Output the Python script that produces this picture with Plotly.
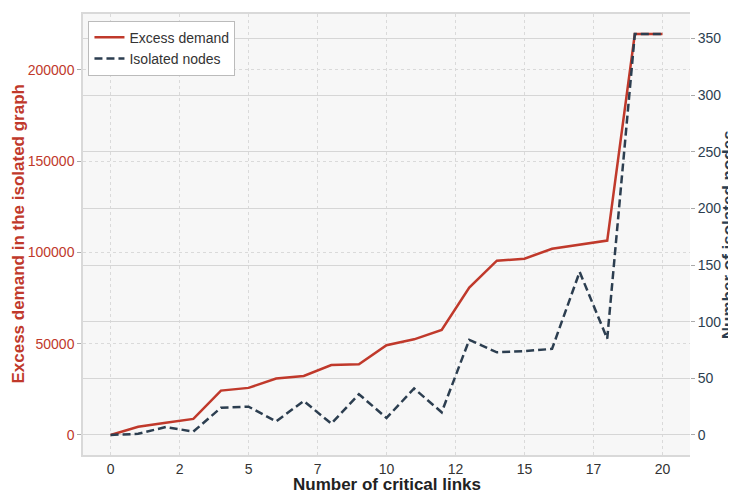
import plotly.graph_objects as go

critical_links = list(range(21))
excess_demand = [0, 4500, 6700, 8800, 24300, 25800, 30900, 32300, 38300, 38700, 49200,
                 52400, 57500, 80800, 95500, 96600, 102000, 104100, 106500, 219700, 219700]
isolated_nodes = [0, 1, 7, 3, 24, 25, 12, 30, 10, 36, 15,
                  41, 20, 84, 73, 74, 76, 144, 85, 354, 354]
x_tickvals = [0, 2.5, 5, 7.5, 10, 12.5, 15, 17.5, 20]
x_ticktext = ["0", "2", "5", "7", "10", "12", "15", "17", "20"]

RED = "#c0392b"
NAVY = "#2c3e50"
FONT = "Liberation Sans, Arial, sans-serif"

fig = go.Figure()
fig.add_trace(go.Scatter(x=critical_links, y=excess_demand, mode="lines", name="Excess demand",
                         line=dict(color=RED, width=2.5), yaxis="y"))
fig.add_trace(go.Scatter(x=critical_links, y=isolated_nodes, mode="lines", name="Isolated nodes",
                         line=dict(color=NAVY, width=2.5, dash="8px,4px"), yaxis="y2"))

# page body has an 8px default margin, so the figure is sized/offset to compensate
fig.update_layout(
    width=728, height=482,
    margin=dict(l=75, r=46, t=6, b=35, autoexpand=False),
    paper_bgcolor="white", plot_bgcolor="#f7f7f7",
    font=dict(family=FONT, size=14, color="#333333"),
    showlegend=True,
    legend=dict(x=0.009, y=0.985, xanchor="left", yanchor="top",
                bgcolor="white", bordercolor="#bbbbbb", borderwidth=1,
                font=dict(size=14, color="#333333"), tracegroupgap=0),
    xaxis=dict(range=[-1, 21], tickvals=x_tickvals, ticktext=x_ticktext,
               showgrid=True, gridcolor="#dadada", griddash="3px,3px", gridwidth=1,
               zeroline=False, showline=True, linecolor="#d9d9d9", linewidth=1.5, mirror=True,
               ticks="", tickfont=dict(size=14, color="#333333"), automargin=False),
    yaxis=dict(range=[-10985, 230685], tickvals=[0, 50000, 100000, 150000, 200000],
               ticktext=["0", "50000", "100000", "150000", "200000"],
               showgrid=True, gridcolor="#dadada", griddash="3px,3px", gridwidth=1,
               zeroline=False, showline=True, linecolor="#d9d9d9", linewidth=1.5,
               ticks="outside", ticklen=4, tickcolor="#aaaaaa",
               tickfont=dict(size=14, color=RED), automargin=False),
    yaxis2=dict(range=[-17.7, 371.7], overlaying="y", side="right",
                tickvals=[0, 50, 100, 150, 200, 250, 300, 350],
                showgrid=True, gridcolor="#d6d6d6", gridwidth=1.3,
                zeroline=False, showline=False,
                ticks="outside", ticklen=4, tickcolor="#aaaaaa",
                tickfont=dict(size=14, color=NAVY), automargin=False),
    annotations=[
        dict(text="<b>Number of critical links</b>", xref="paper", yref="paper",
             x=0.5, y=-0.067, xanchor="center", yanchor="middle", showarrow=False,
             font=dict(size=17, color="#222222", family=FONT)),
        dict(text="<b>Excess demand in the isolated graph</b>", xref="paper", yref="paper",
             x=-0.107, y=0.5, xanchor="center", yanchor="middle", showarrow=False, textangle=-90,
             font=dict(size=17, color=RED, family=FONT)),
        dict(text="<b>Number of isolated nodes</b>", xref="paper", yref="paper",
             x=1.0637, y=0.5, xanchor="center", yanchor="middle", showarrow=False, textangle=-90,
             font=dict(size=17, color=NAVY, family=FONT)),
    ],
)

fig.write_html("out.html")
